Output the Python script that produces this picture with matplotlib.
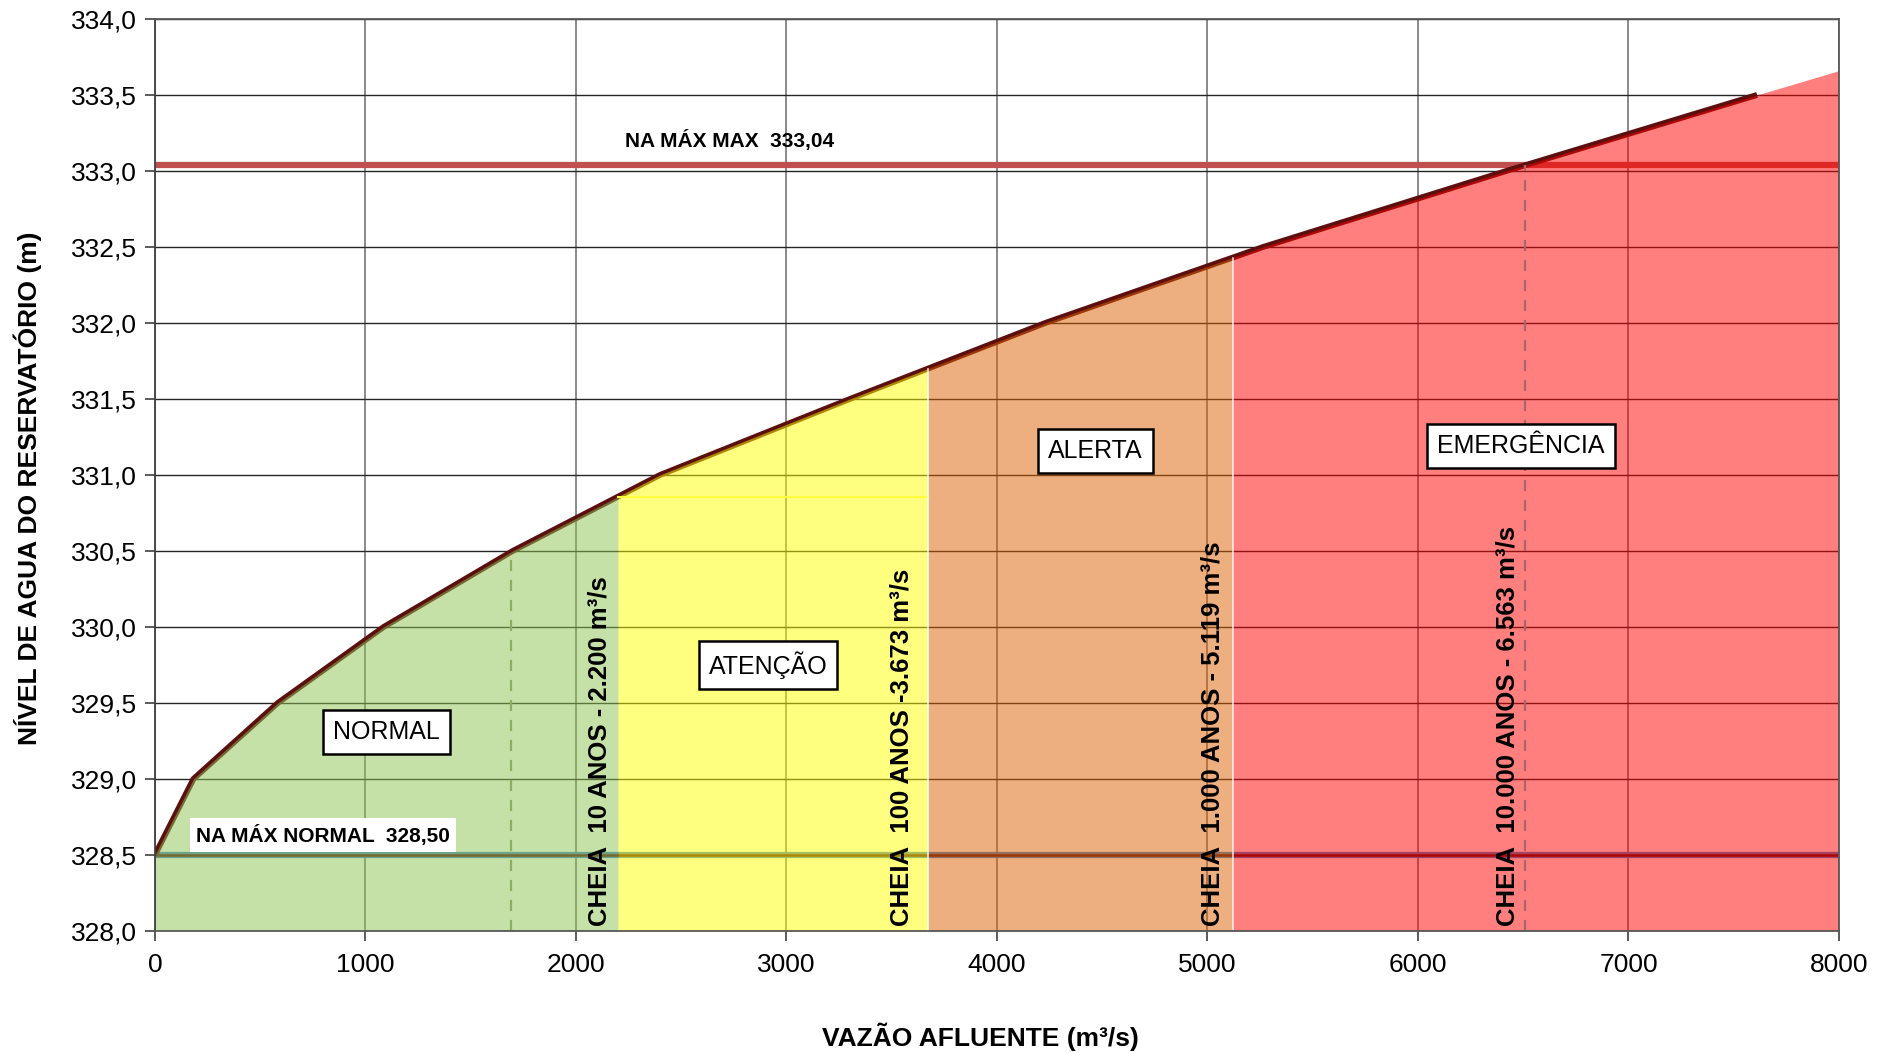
import numpy as np
import matplotlib.pyplot as plt

plt.rcParams['font.family'] = ['Liberation Sans', 'DejaVu Sans']

# curva cota x vazao
vazao = [0, 183, 584, 1087, 1700, 2400, 3302, 4230, 5265, 6420, 7611]
nivel = [328.50, 329.0, 329.5, 330.0, 330.5, 331.0, 331.5, 332.0, 332.5, 333.0, 333.5]
# a mancha vermelha continua ate o fim do eixo
vazao_fim = 8000
nivel_fim = 333.66

# zonas de operacao
limites = [0, 2200, 3673, 5119, 8000]
cores = ['#8DC553', '#FFFF00', '#DC6100', '#FF0000']
zonas = ['NORMAL', 'ATENÇÃO', 'ALERTA', 'EMERGÊNCIA']
x_zonas = [1099, 2912, 4469, 6489]
y_zonas = [329.31, 329.75, 331.16, 331.19]

cheias = ['CHEIA  10 ANOS - 2.200 m³/s', 'CHEIA  100 ANOS -3.673 m³/s',
          'CHEIA  1.000 ANOS - 5.119 m³/s', 'CHEIA  10.000 ANOS - 6.563 m³/s']
x_cheias = [2111, 3548, 5024, 6426]

na_max_max = 333.04
na_max_normal = 328.50
tracejados = [1690, 6510]
cor_tracejados = ['#8AAE62', '#A86666']

fig = plt.figure(figsize=(18.9, 10.53), dpi=100)
ax = fig.add_axes([0.082, 0.116, 0.891, 0.866])

q_fill = np.array(vazao + [vazao_fim])
h_fill = np.array(nivel + [nivel_fim])

# linhas de referencia (ficam por baixo das manchas)
ax.axhline(na_max_max, color='#C0504D', lw=4.5, zorder=1)
ax.axhline(na_max_normal, color='#4F81BD', lw=4.5, zorder=1)
ax.axhline(na_max_normal, color='#5A1010', lw=1.8, zorder=1.1)
ax.plot(vazao, nivel, color='#5C0F0F', lw=4.2, solid_capstyle='butt', zorder=1.2)

# manchas coloridas
for i in range(len(cores)):
    a, b = limites[i], limites[i + 1]
    xs = [a] + [q for q in q_fill if a < q < b] + [b]
    ys = np.interp(xs, q_fill, h_fill)
    ax.fill_between(xs, 328, ys, color=cores[i], alpha=0.5, lw=0, zorder=2)

# linha amarela no topo da zona de atencao
h_2200 = np.interp(limites[1], q_fill, h_fill)
ax.plot([limites[1], limites[2]], [h_2200, h_2200], color='#FFFF40', lw=1.5, zorder=2.1)
for b in limites[2:4]:
    ax.plot([b, b], [328, np.interp(b, q_fill, h_fill)], color='white', lw=1.2, alpha=0.8, zorder=2.1)

# tracejados verticais
for x, c in zip(tracejados, cor_tracejados):
    topo = min(np.interp(x, q_fill, h_fill), na_max_max)
    ax.plot([x, x], [328, topo], color=c, lw=1.6, ls=(0, (5, 4)), zorder=2.2)

# textos
ax.text(2232, 333.2, 'NA MÁX MAX  333,04', fontsize=15, fontweight='bold', va='center', zorder=5)
ax.text(195, 328.63, 'NA MÁX NORMAL  328,50', fontsize=15, fontweight='bold', va='center', zorder=5,
        bbox=dict(boxstyle='square,pad=0.3', fc='white', ec='none'))
for t, x, y in zip(zonas, x_zonas, y_zonas):
    ax.text(x, y, t, fontsize=18, ha='center', va='center', zorder=5,
            bbox=dict(boxstyle='square,pad=0.4', fc='white', ec='black', lw=1.8))
for t, x in zip(cheias, x_cheias):
    ax.text(x, 328.03, t, fontsize=18.5, fontweight='bold', rotation=90,
            ha='center', va='bottom', zorder=5)

ax.set_xlim(0, 8000)
ax.set_ylim(328, 334)
ax.set_xticks(range(0, 8001, 1000))
yt = np.arange(328, 334.01, 0.5)
ax.set_yticks(yt)
ax.set_yticklabels([('%.1f' % v).replace('.', ',') for v in yt])
ax.tick_params(labelsize=19, length=7, width=1.2, direction='out', color='#404040')
ax.tick_params(axis='x', pad=9)
ax.tick_params(axis='y', pad=6)

ax.set_axisbelow(True)
ax.xaxis.grid(True, color='#808080', lw=1.3)
ax.yaxis.grid(True, color='#262626', lw=1.0)
for s in ax.spines.values():
    s.set_color('#595959')
    s.set_linewidth(1.3)
ax.spines['left'].set_color('#404040')

ax.set_xlabel('VAZÃO AFLUENTE (m³/s)', fontsize=19, fontweight='bold')
ax.xaxis.set_label_coords(0.49, -0.101)
ax.set_ylabel('NÍVEL DE AGUA DO RESERVATÓRIO (m)', fontsize=19, fontweight='bold')
ax.yaxis.set_label_coords(-0.067, 0.485)

fig.savefig('out.png', dpi=100)
